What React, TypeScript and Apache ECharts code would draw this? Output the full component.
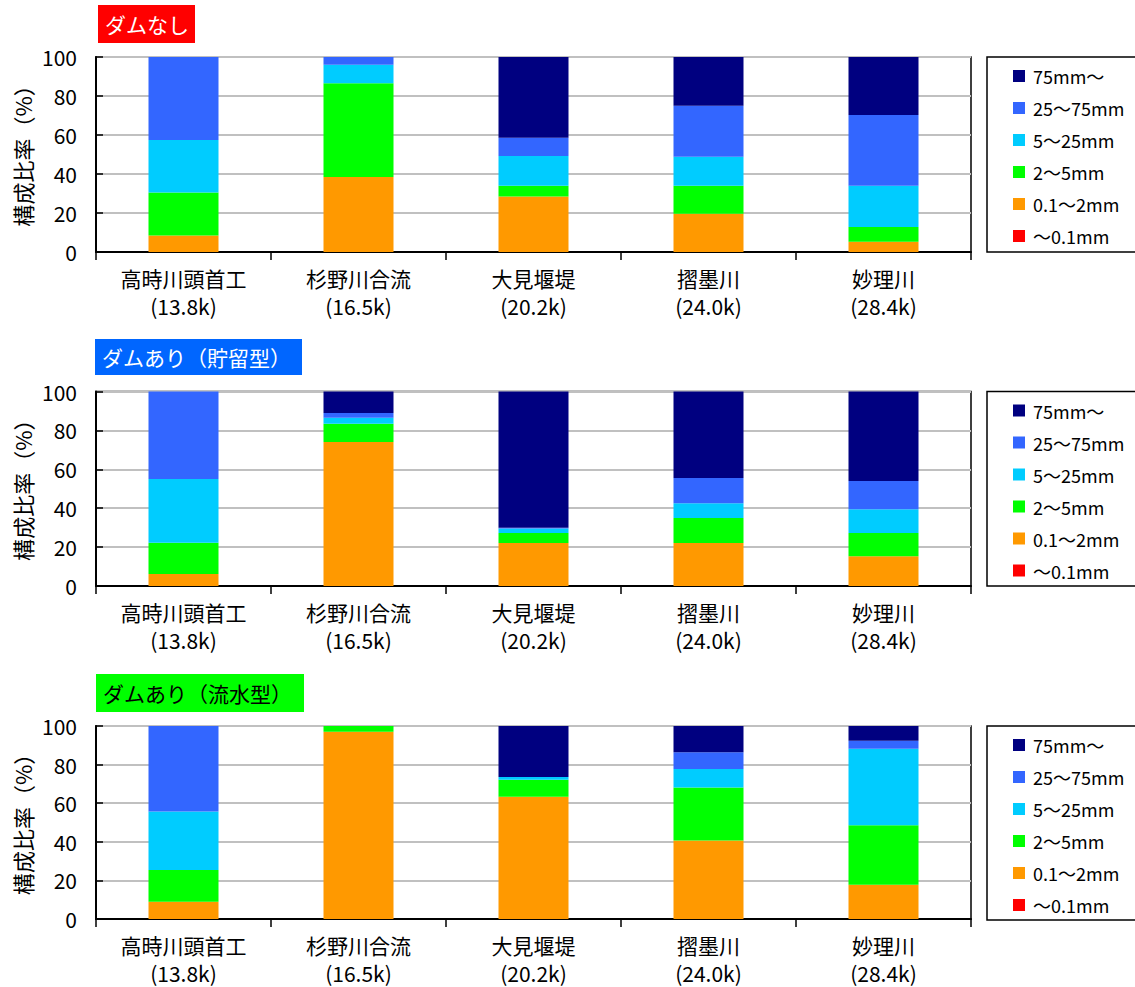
import React, { useEffect, useRef } from "react";
import * as echarts from "echarts";

// Sampling sites along the river (name / distance marker)
const sites = ["高時川頭首工", "杉野川合流", "大見堰堤", "摺墨川", "妙理川"];
const distances = ["(13.8k)", "(16.5k)", "(20.2k)", "(24.0k)", "(28.4k)"];

// Grain-size classes, bottom of the stack first
const sizeClasses = ["～0.1mm", "0.1～2mm", "2～5mm", "5～25mm", "25～75mm", "75mm～"];
const classColors = ["#ff0000", "#ff9900", "#00ff00", "#00ccff", "#3366ff", "#000080"];
const legendOrder = ["75mm～", "25～75mm", "5～25mm", "2～5mm", "0.1～2mm", "～0.1mm"];

// Composition ratio (%) per class, case: no dam
const noDam = [
  [0, 0, 0, 0, 0],
  [8.5, 38.5, 28.4, 19.6, 5.3],
  [22.0, 48.0, 5.6, 14.4, 7.5],
  [27.0, 9.5, 15.2, 14.9, 21.2],
  [42.5, 4.0, 9.4, 26.1, 36.3],
  [0, 0, 41.4, 25.0, 29.7],
];

// Case: storage-type dam
const storageDam = [
  [0, 0, 0, 0, 0],
  [6.2, 74.1, 22.1, 22.1, 15.3],
  [16.1, 9.3, 5.2, 12.9, 12.0],
  [32.7, 3.1, 2.2, 7.6, 12.2],
  [45.0, 2.5, 0.5, 12.9, 14.5],
  [0, 11.0, 70.0, 44.5, 46.0],
];

// Case: run-of-river (flow-through) dam
const flowDam = [
  [0, 0, 0, 0, 0],
  [8.9, 97.0, 63.3, 40.7, 17.7],
  [16.5, 3.0, 8.9, 27.4, 30.9],
  [30.3, 0, 1.4, 9.6, 39.6],
  [44.3, 0, 0, 8.7, 4.1],
  [0, 0, 26.4, 13.6, 7.7],
];

const panelTitles = ["ダムなし", "ダムあり（貯留型）", "ダムあり（流水型）"];
const panelData = [noDam, storageDam, flowDam];

const FONT = "'Noto Sans CJK JP', 'Noto Sans', sans-serif";

// Layout of each panel: title box and plot area
const layout = [
  { box: [98, 5, 97, 38], boxFill: "#ff0000", titleColor: "#ffffff", top: 57, height: 195 },
  { box: [95, 339, 207, 36], boxFill: "#0066ff", titleColor: "#ffffff", top: 391.5, height: 194.5 },
  { box: [96, 674, 208, 38], boxFill: "#00ff00", titleColor: "#000000", top: 726, height: 194 },
];

const GRID_LEFT = 96;
const GRID_WIDTH = 875;

export default function App() {
  const ref = useRef<HTMLDivElement>(null);

  useEffect(() => {
    document.body.style.margin = "0";
    if (!ref.current) return;
    const chart = echarts.init(ref.current, undefined, { renderer: "svg" });

    const categoryLabels = sites.map((s, i) => `${s}\n${distances[i]}`);

    const grids: any[] = [];
    const xAxes: any[] = [];
    const yAxes: any[] = [];
    const series: any[] = [];
    const legends: any[] = [];
    const graphics: any[] = [];

    layout.forEach((L, p) => {
      grids.push({
        left: GRID_LEFT,
        width: GRID_WIDTH,
        top: L.top,
        height: L.height,
        show: true,
        borderColor: "#000",
        borderWidth: 1.5,
        backgroundColor: "transparent",
      });
      xAxes.push({
        type: "category",
        gridIndex: p,
        data: categoryLabels,
        axisLine: { lineStyle: { color: "#000", width: 2 } },
        axisTick: { show: true, length: 8, lineStyle: { color: "#000", width: 1.5 } },
        axisLabel: {
          interval: 0,
          color: "#000",
          fontSize: 21,
          lineHeight: 28,
          margin: 12,
          fontFamily: FONT,
        },
      });
      yAxes.push({
        type: "value",
        gridIndex: p,
        min: 0,
        max: 100,
        interval: 20,
        axisLine: { show: true, lineStyle: { color: "#000", width: 2 } },
        axisTick: { show: true, inside: true, length: 7, lineStyle: { color: "#000", width: 1.5 } },
        splitLine: { lineStyle: { color: "#c0c0c0", width: 2 } },
        axisLabel: { color: "#000", fontSize: 21, margin: 19, fontFamily: FONT },
      });

      sizeClasses.forEach((name, k) => {
        series.push({
          type: "bar",
          name,
          xAxisIndex: p,
          yAxisIndex: p,
          stack: "panel" + p,
          barWidth: "40%",
          itemStyle: { color: classColors[k] },
          data: panelData[p][k],
        });
      });

      legends.push({
        data: legendOrder,
        orient: "vertical",
        left: 1013,
        top: L.top + 9,
        padding: 0,
        itemWidth: 12,
        itemHeight: 12,
        itemGap: 12,
        icon: "rect",
        selectedMode: false,
        textStyle: {
          color: "#000",
          fontSize: 18,
          lineHeight: 20,
          fontFamily: FONT,
          padding: [0, 0, 0, 3],
        },
      });

      // legend frame
      graphics.push({
        type: "rect",
        shape: { x: 987, y: L.top, width: 170, height: L.height },
        style: { fill: "none", stroke: "#000", lineWidth: 1.5 },
      });

      // panel title box
      graphics.push({
        type: "rect",
        shape: { x: L.box[0], y: L.box[1], width: L.box[2], height: L.box[3] },
        style: { fill: L.boxFill },
      });
      graphics.push({
        type: "text",
        x: L.box[0] + 7,
        y: L.box[1] + L.box[3] / 2,
        style: {
          text: panelTitles[p],
          fill: L.titleColor,
          fontSize: 21,
          fontFamily: FONT,
          align: "left",
          verticalAlign: "middle",
        },
      });

      // y-axis name, reading upward
      graphics.push({
        type: "text",
        x: 22,
        y: L.top + L.height / 2 - 4,
        rotation: Math.PI / 2,
        style: {
          text: "構成比率（%）",
          fill: "#000",
          fontSize: 22,
          fontFamily: FONT,
          align: "center",
          verticalAlign: "middle",
        },
      });
    });

    chart.setOption({
      animation: false,
      backgroundColor: "#fff",
      grid: grids,
      xAxis: xAxes,
      yAxis: yAxes,
      legend: legends,
      series,
      graphic: graphics,
    });

    return () => chart.dispose();
  }, []);

  return <div ref={ref} style={{ width: 1135, height: 987 }} />;
}
